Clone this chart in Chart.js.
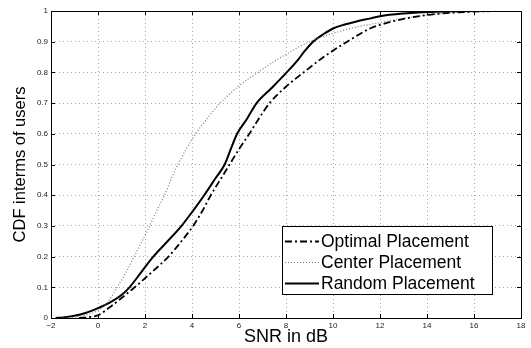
<!DOCTYPE html>
<html>
<head>
<meta charset="utf-8">
<script src="https://cdn.jsdelivr.net/npm/chart.js@4/dist/chart.umd.min.js"></script>
<style>
  html, body { margin: 0; padding: 0; background: #fff; }
  canvas { display: block; }
</style>
</head>
<body>
<canvas id="c" width="531" height="348"></canvas>
<script>
// ---- Data ----
const seriesNames = ["Optimal Placement", "Center Placement", "Random Placement"];

const optimalX = [-0.8, -0.4, 0, 0.5, 1, 1.56, 2.3, 3.0, 3.55, 4.05, 4.45, 4.8, 5.2, 5.6, 6.0, 6.44, 6.85, 7.3, 7.95, 8.75, 9.6, 10.6, 11.6, 12, 13, 14, 15, 16, 17];
const optimalY = [0, 0.003, 0.009, 0.035, 0.065, 0.1, 0.15, 0.2, 0.25, 0.3, 0.35, 0.4, 0.45, 0.5, 0.55, 0.6, 0.65, 0.7, 0.75, 0.8, 0.85, 0.9, 0.944, 0.955, 0.974, 0.987, 0.994, 0.998, 1];

const centerX = [-1.5, -1, -0.5, 0, 0.4, 0.81, 1.2, 1.54, 1.87, 2.2, 2.5, 2.83, 3.1, 3.4, 3.75, 4.15, 4.65, 5.2, 5.9, 6.8, 7.8, 9.0, 10, 11, 12, 13, 14, 15, 16, 17];
const centerY = [0, 0.003, 0.01, 0.025, 0.05, 0.1, 0.15, 0.2, 0.25, 0.3, 0.35, 0.4, 0.45, 0.5, 0.55, 0.6, 0.65, 0.7, 0.75, 0.8, 0.85, 0.9, 0.927, 0.948, 0.962, 0.976, 0.987, 0.994, 0.998, 1];

const randomX = [-1.8, -1.5, -1, -0.5, 0, 0.5, 1, 1.34, 1.8, 2.3, 2.9, 3.5, 4.05, 4.52, 5, 5.39, 5.65, 5.92, 6.35, 6.75, 7.4, 8.03, 8.5, 8.8, 9.15, 9.6, 10, 10.5, 11, 11.6, 12, 13, 14, 15, 16, 17];
const randomY = [0, 0.002, 0.007, 0.017, 0.032, 0.05, 0.075, 0.1, 0.145, 0.195, 0.245, 0.295, 0.35, 0.4, 0.455, 0.5, 0.55, 0.6, 0.65, 0.7, 0.75, 0.8, 0.84, 0.87, 0.9, 0.925, 0.943, 0.956, 0.966, 0.976, 0.983, 0.992, 0.997, 0.999, 1, 1];

const xTicks = [-2, 0, 2, 4, 6, 8, 10, 12, 14, 16, 18];
const yTicks = [0, 0.1, 0.2, 0.3, 0.4, 0.5, 0.6, 0.7, 0.8, 0.9, 1];
const xTitle = "SNR in dB";
const yTitle = "CDF interms of users";

function pts(xs, ys) { return xs.map((x, i) => ({ x: x, y: ys[i] })); }

const FONT = "'Liberation Sans', Arial, Helvetica, sans-serif";

// Frame, inward tick marks and legend box
const framePlugin = {
  id: 'frame',
  afterDraw(chart) {
    const ctx = chart.ctx;
    const a = chart.chartArea;
    const xs = chart.scales.x, ys = chart.scales.y;
    ctx.save();
    ctx.strokeStyle = '#000';
    ctx.lineWidth = 1;
    ctx.setLineDash([]);
    const tl = 4;
    ctx.beginPath();
    xTicks.forEach(v => {
      const px = Math.round(xs.getPixelForValue(v)) + 0.5;
      ctx.moveTo(px, a.bottom); ctx.lineTo(px, a.bottom - tl);
      ctx.moveTo(px, a.top); ctx.lineTo(px, a.top + tl);
    });
    yTicks.forEach(v => {
      const py = Math.round(ys.getPixelForValue(v)) + 0.5;
      ctx.moveTo(a.left, py); ctx.lineTo(a.left + tl, py);
      ctx.moveTo(a.right, py); ctx.lineTo(a.right - tl, py);
    });
    ctx.stroke();
    ctx.strokeRect(Math.round(a.left) + 0.5, Math.round(a.top) + 0.5,
                   Math.round(a.right - a.left), Math.round(a.bottom - a.top));

    // legend
    const bx = 282.5, by = 226.5, bw = 210, bh = 68;
    ctx.fillStyle = '#fff';
    ctx.fillRect(bx, by, bw, bh);
    ctx.strokeRect(bx, by, bw, bh);
    const rows = [241, 262, 283];
    chart.data.datasets.forEach((ds, i) => {
      const y = rows[i] + 0.5;
      ctx.strokeStyle = ds.borderColor;
      ctx.lineWidth = ds.borderWidth;
      ctx.setLineDash(ds.borderDash || []);
      ctx.beginPath();
      ctx.moveTo(285, y); ctx.lineTo(319, y);
      ctx.stroke();
      ctx.setLineDash([]);
      ctx.fillStyle = '#000';
      ctx.font = '17.5px ' + FONT;
      ctx.textBaseline = 'middle';
      ctx.textAlign = 'left';
      ctx.fillText(ds.label, 321, rows[i] + 1);
    });
    ctx.restore();
  }
};

new Chart(document.getElementById('c'), {
  type: 'line',
  data: {
    datasets: [
      { label: seriesNames[0], data: pts(optimalX, optimalY), borderColor: '#000', borderWidth: 1.8,
        borderDash: [7, 3, 2, 3], pointRadius: 0, fill: false, cubicInterpolationMode: 'monotone' },
      { label: seriesNames[1], data: pts(centerX, centerY), borderColor: '#777', borderWidth: 1.2,
        borderDash: [1, 2], pointRadius: 0, fill: false, cubicInterpolationMode: 'monotone' },
      { label: seriesNames[2], data: pts(randomX, randomY), borderColor: '#000', borderWidth: 2,
        pointRadius: 0, fill: false, cubicInterpolationMode: 'monotone' }
    ]
  },
  options: {
    responsive: false,
    animation: false,
    devicePixelRatio: 1,
    layout: { padding: { left: 0, right: 10, top: 11, bottom: 0 } },
    plugins: { legend: { display: false }, tooltip: { enabled: false } },
    scales: {
      x: {
        type: 'linear', min: -2, max: 18,
        afterBuildTicks: s => { s.ticks = xTicks.map(v => ({ value: v })); },
        afterFit: s => { s.height = 30; },
        grid: { color: '#a8a8a8', lineWidth: 1, drawTicks: false },
        border: { display: false, dash: [1, 3] },
        ticks: { padding: 3, color: '#222', font: { size: 8, family: FONT }, maxRotation: 0,
                 callback: v => (v < 0 ? '\u2212' + Math.abs(v) : String(v)) },
        title: { display: true, text: xTitle, color: '#000', font: { size: 18, family: FONT },
                 padding: { top: 0, bottom: 0 } }
      },
      y: {
        min: 0, max: 1,
        afterBuildTicks: s => { s.ticks = yTicks.map(v => ({ value: v })); },
        afterFit: s => { s.width = 51; },
        grid: { color: '#a8a8a8', lineWidth: 1, drawTicks: false },
        border: { display: false, dash: [1, 3] },
        ticks: { padding: 3, color: '#222', font: { size: 8, family: FONT },
                 callback: v => (v === 0 ? '0' : v === 1 ? '1' : v.toFixed(1)) },
        title: { display: true, text: yTitle, color: '#000', font: { size: 16.5, family: FONT },
                 padding: { top: 11, bottom: 0 } }
      }
    }
  },
  plugins: [framePlugin]
});
</script>
</body>
</html>
